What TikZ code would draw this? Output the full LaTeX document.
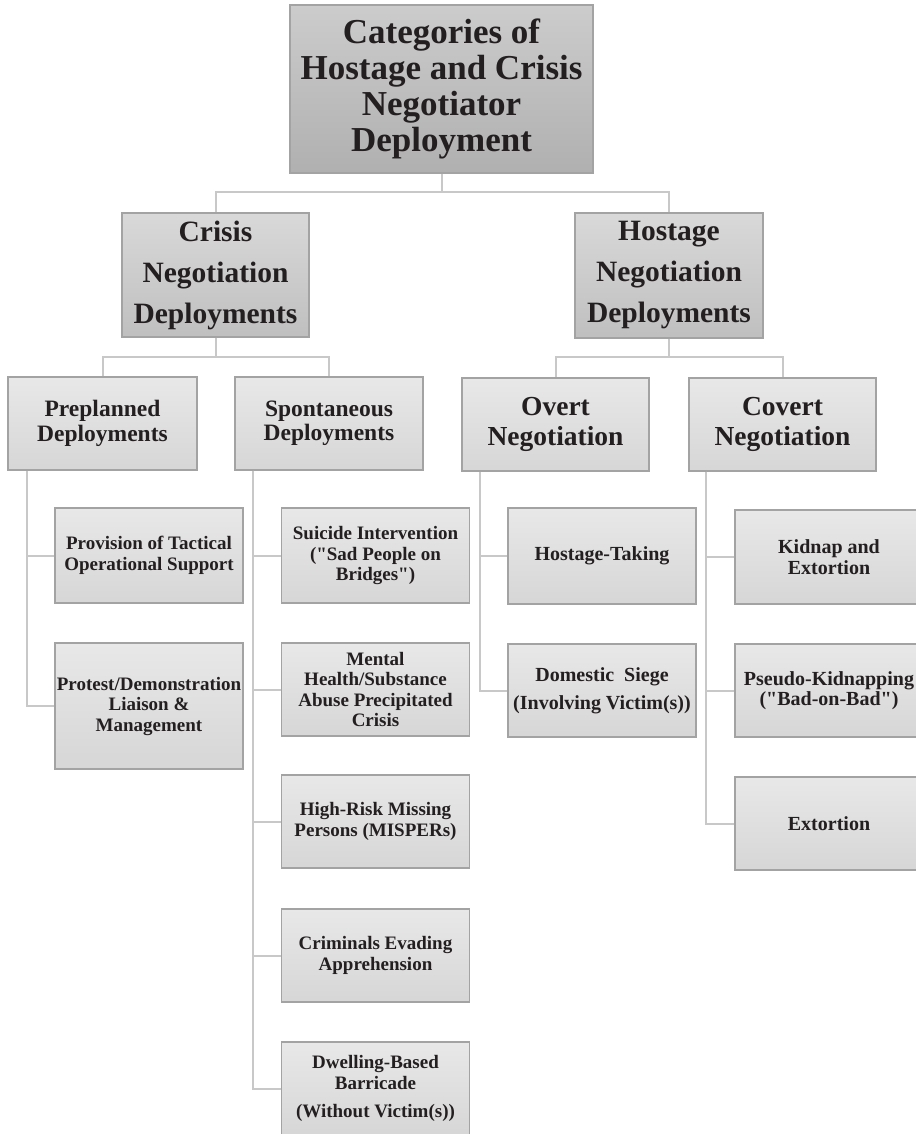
\documentclass[tikz,border=0pt]{standalone}
\usepackage{fontspec}
\setmainfont{Liberation Serif}[Ligatures=TeXOff]
\definecolor{txt}{HTML}{231F20}
\definecolor{boxline}{HTML}{A3A3A3}
\definecolor{conn}{HTML}{C8C8C8}
\begin{document}
\begin{tikzpicture}[x=1pt,y=-1pt,
  box/.style={draw=boxline, line width=1.3pt, inner sep=0pt, align=center, text=txt},
  lvlone/.style={box, top color=black!20, bottom color=black!31,
     font=\fontsize{35}{36}\selectfont\bfseries},
  lvltwo/.style={box, top color=black!15, bottom color=black!25,
     font=\fontsize{29.5}{41}\selectfont\bfseries},
  lvlthree/.style={box, top color=black!9, bottom color=black!16,
     font=\fontsize{23.5}{24.5}\selectfont\bfseries},
  lvlthreeb/.style={lvlthree, font=\fontsize{27.5}{30}\selectfont\bfseries},
  leaf/.style={box, top color=black!9, bottom color=black!16,
     minimum width=188, minimum height=94,
     font=\fontsize{19}{20.5}\selectfont\bfseries},
  leafb/.style={leaf, font=\fontsize{20}{28}\selectfont\bfseries},
  link/.style={draw=conn, line width=2pt}]
\useasboundingbox (0,0) rectangle (915,1134);

% level 1
\node[lvlone, minimum width=303, minimum height=168] (top) at (441.5,89)
  {Categories of\\Hostage and Crisis\\Negotiator\\Deployment};

% level 2
\node[lvltwo, minimum width=187, minimum height=124] (crisis) at (215.5,275)
  {Crisis\\Negotiation\\Deployments};
\node[lvltwo, minimum width=188, minimum height=125] (hostage) at (669,275.5)
  {Hostage\\Negotiation\\Deployments};

% level 3
\node[lvlthree, minimum width=189, minimum height=93] (pre) at (102.5,423.5)
  {Preplanned\\Deployments};
\node[lvlthree, minimum width=188, minimum height=93] (spont) at (329,423.5)
  {Spontaneous\\Deployments};
\node[lvlthreeb, minimum width=187, minimum height=93] (overt) at (555.5,424.5)
  {Overt\\Negotiation};
\node[lvlthreeb, minimum width=187, minimum height=93] (covert) at (782.5,424.5)
  {Covert\\Negotiation};

% leaves: preplanned
\node[leaf, minimum height=95] (prov) at (149,555.5)
  {Provision of Tactical\\Operational Support};
\node[leaf, minimum height=126] (prot) at (149,706)
  {Protest/Demonstration\\Liaison \&\\Management};

% leaves: spontaneous
\node[leaf, minimum height=95] (sui) at (375.5,555.5)
  {Suicide Intervention\\("Sad People on\\Bridges")};
\node[leaf, minimum height=93] (ment) at (375.5,689.5)
  {Mental\\Health/Substance\\Abuse Precipitated\\Crisis};
\node[leaf, minimum height=93] (miss) at (375.5,821.5)
  {High-Risk Missing\\Persons (MISPERs)};
\node[leaf, minimum height=93] (crim) at (375.5,955.5)
  {Criminals Evading\\Apprehension};
\node[leaf, minimum height=93] (dwel) at (375.5,1088.5)
  {Dwelling-Based\\Barricade\\[8pt](Without Victim(s))};

% leaves: overt
\node[leafb, minimum height=96] (htak) at (602,556)
  {Hostage-Taking};
\node[leafb, minimum height=93] (dom) at (602,690.5)
  {Domestic\ \ Siege\\(Involving Victim(s))};

% leaves: covert
\node[leafb, minimum height=94, font=\fontsize{20}{20.5}\selectfont\bfseries] (kid) at (829,557)
  {Kidnap and\\Extortion};
\node[leafb, minimum height=93, font=\fontsize{20}{20.5}\selectfont\bfseries] (pseu) at (829,690.5)
  {Pseudo-Kidnapping\\("Bad-on-Bad")};
\node[leafb, minimum height=93] (ext) at (829,823.5)
  {Extortion};

% connectors
\coordinate (busone) at (441.5,192);
\coordinate (bustwo) at (0,357);
\draw[link] (top.south) -- (busone) -| (crisis.north);
\draw[link] (top.south) -- (busone) -| (hostage.north);
\draw[link] (crisis.south) -- (crisis.south |- bustwo) -| (pre.north);
\draw[link] (crisis.south) -- (crisis.south |- bustwo) -| (spont.north);
\draw[link] (hostage.south) -- (hostage.south |- bustwo) -| (overt.north);
\draw[link] (hostage.south) -- (hostage.south |- bustwo) -| (covert.north);

\foreach \c in {prov,prot}
  \draw[link] ([xshift=20pt]pre.south west) |- (\c.west);
\foreach \c in {sui,ment,miss,crim,dwel}
  \draw[link] ([xshift=19pt]spont.south west) |- (\c.west);
\foreach \c in {htak,dom}
  \draw[link] ([xshift=19pt]overt.south west) |- (\c.west);
\foreach \c in {kid,pseu,ext}
  \draw[link] ([xshift=18pt]covert.south west) |- (\c.west);
\end{tikzpicture}
\end{document}
